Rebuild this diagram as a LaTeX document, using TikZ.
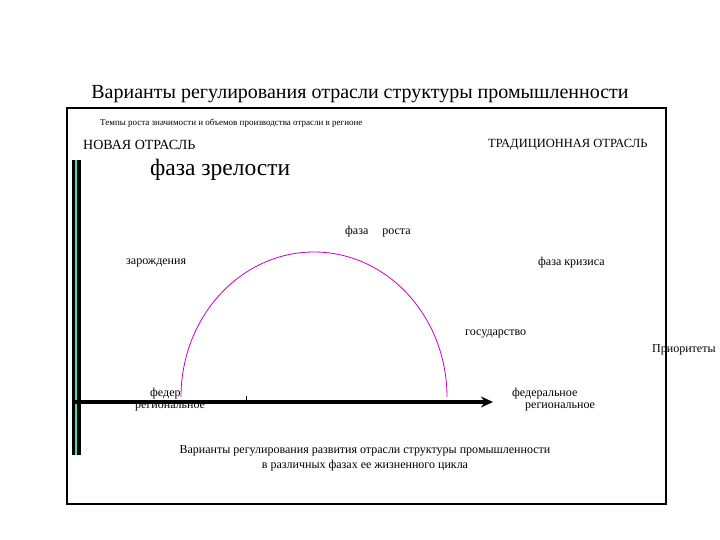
\documentclass[tikz,border=0pt]{standalone}
\usepackage{fontspec}
\setmainfont{Liberation Serif}
\usetikzlibrary{arrows.meta}
\definecolor{aqua}{RGB}{64,224,176}
\definecolor{arcmag}{RGB}{200,0,200}
\tikzset{
  lbl/.style={inner sep=0pt, anchor=west, font=\fontsize{12}{14}\selectfont},
  small/.style={inner sep=0pt, font=\fontsize{9}{10}\selectfont},
}
\begin{document}
\begin{tikzpicture}[x=1pt,y=-1pt]
\useasboundingbox (0,0) rectangle (720,540);
\fill[white] (0,0) rectangle (720,540);
% frame
\draw[line width=1.2pt] (67,108) rectangle (666,504);
% title
\node[inner sep=0pt, font=\fontsize{20}{24}\selectfont] (title) at (360,94) {Варианты регулирования отрасли структуры промышленности};
\node[small, anchor=west] (temp) at (100,123) {Темпы роста значимости и объемов производства отрасли в регионе};
\node[lbl, font=\fontsize{14}{16}\selectfont] (new) at (83,145) {НОВАЯ ОТРАСЛЬ};
\node[lbl, font=\fontsize{12.5}{15}\selectfont] (trad) at (488,145) {ТРАДИЦИОННАЯ ОТРАСЛЬ};
\node[lbl, font=\fontsize{23.5}{28}\selectfont] (mat) at (150,170) {фаза зрелости};
\node[lbl] (grow) at (345,232) {фаза\hspace{14pt}роста};
\node[lbl] (birth) at (126,263) {зарождения};
\node[lbl] (crisis) at (538,263) {фаза кризиса};
\node[lbl] (state) at (465,334) {государство};
\node[lbl] (prio) at (652,350) {Приоритеты};
\node[lbl] (feder) at (150,394) {федер};
\node[lbl] (reg1) at (135,407) {региональное};
\node[lbl] (fed2) at (512,394) {федеральное};
\node[lbl] (reg2) at (525,407) {региональное};
\node[inner sep=0pt, font=\fontsize{12}{15}\selectfont, align=center] (bottom) at (365,458) {Варианты регулирования развития отрасли структуры промышленности\\в различных фазах ее жизненного цикла};
% arc
\coordinate (arcL) at (181,397);
\draw[arcmag, line width=0.8pt] (arcL) arc[start angle=180, end angle=360, x radius=133, y radius=145];
% vertical bar
\coordinate (vt) at (76,160);
\coordinate (vb) at (76,455);
\draw[line width=9pt, black] (vt) -- (vb);
\draw[line width=2pt, aqua] (vt) -- (vb);
% axis
\coordinate (ax0) at (72,402);
\coordinate (ax1) at (493,402);
\draw[line width=4pt, -{Stealth[length=12pt,width=11pt]}] (ax0) -- (ax1);
\coordinate (tk) at (246,402);
\draw[line width=0.8pt] (tk) -- ++(0,-6);
\end{tikzpicture}
\end{document}
